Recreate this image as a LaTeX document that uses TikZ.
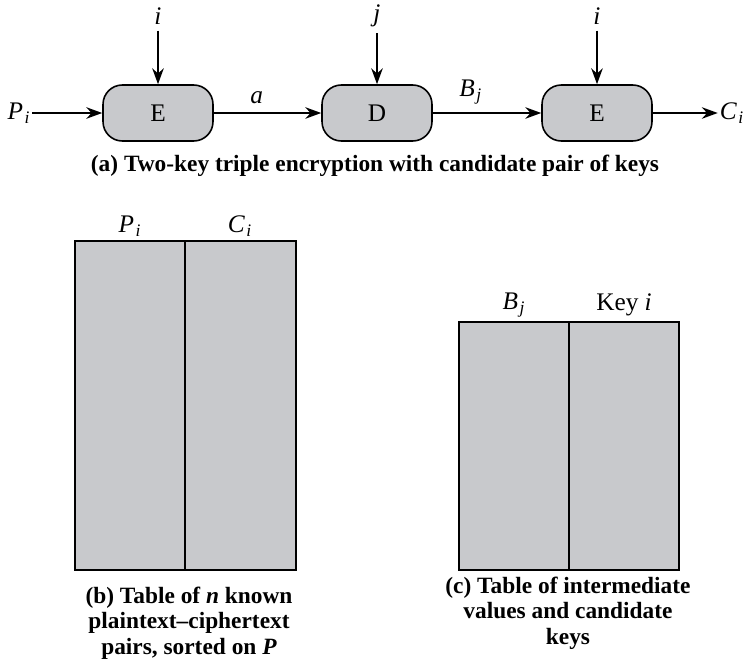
\documentclass[tikz,border=0pt]{standalone}
\usepackage{fontspec}
\setmainfont{Liberation Serif}
\usepackage{tikz}
\usetikzlibrary{arrows.meta}
\definecolor{boxgray}{RGB}{200,201,204}
\newcommand{\var}[2]{\textit{#1}\textsubscript{\kern0.8pt\textit{#2}}}
\tikzset{
  cipher/.style={draw,line width=0.9pt,fill=boxgray,rounded corners=11pt,minimum width=2.2cm,minimum height=1.12cm,font=\Large},
  flow/.style={-{Stealth[length=9pt,width=6.5pt]},line width=1.4pt},
  lbl/.style={font=\Large},
  capt/.style={font=\bfseries\fontsize{13.3}{14.6}\selectfont,align=center}
}

\begin{document}
\begin{tikzpicture}[x=0.02cm,y=-0.02cm]

      \useasboundingbox (0,0) rectangle (749,666);

      % (a) the three stages
      \node [cipher] (e1) at (158,113) {E};
      \node [cipher] (d) at (377,113) {D};
      \node [cipher] (e2) at (597,113) {E};

      \node [lbl,inner sep=1pt] (pin) at (19,113) {\var{P}{i}};
      \node [lbl,inner sep=1pt] (cout) at (732,113) {\var{C}{i}};
      \node [lbl] (k1) at (158,16) {\textit{i}};
      \node [lbl] (k2) at (377,16) {\textit{j}};
      \node [lbl] (k3) at (597,16) {\textit{i}};

      \draw[flow] (pin) -- (e1);
      \draw[flow] (e1) -- node [lbl,above,pos=0.4,yshift=1pt] {\textit{a}} (d);
      \draw[flow] (d) -- node [lbl,above,pos=0.35,yshift=1pt] {\var{B}{j}} (e2);
      \draw[flow] (e2) -- (cout);
      \draw[flow] (k1) -- (e1);
      \draw[flow] (k2) -- (d);
      \draw[flow] (k3) -- (e2);

      \node [capt] (capa) at (375,166) {(a) Two-key triple encryption with candidate pair of keys};

      % (b) known pairs
      \draw [line width=0.9pt,fill=boxgray] (75,241) rectangle (296,570);
      \draw [line width=0.9pt] (185,241) -- (185,570);
      \node [lbl] (pcol) at (130,226) {\var{P}{i}};
      \node [lbl] (ccol) at (240,226) {\var{C}{i}};
      \node [capt] (capb) at (189,623) {(b) Table of \textit{n} known\\plaintext--ciphertext\\pairs, sorted on \textit{P}};

      % (c) intermediate values
      \draw [line width=0.9pt,fill=boxgray] (459,322) rectangle (679,570);
      \draw [line width=0.9pt] (569,322) -- (569,570);
      \node [lbl] (bcol) at (514,305) {\var{B}{j}};
      \node [lbl] (kcol) at (624,305) {Key \textit{i}};
      \node [capt] (capc) at (568,613) {(c) Table of intermediate\\values and candidate\\keys};

    \end{tikzpicture}
\end{document}
